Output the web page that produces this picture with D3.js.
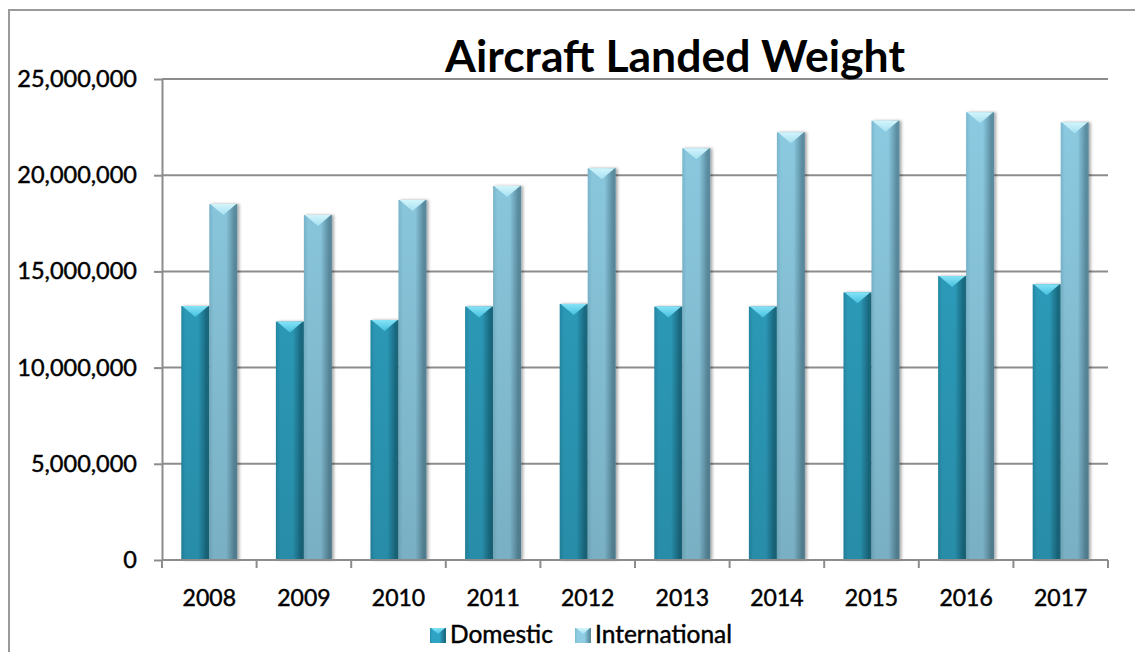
<!DOCTYPE html>
<html>
<head>
<meta charset="utf-8">
<script src="https://cdn.jsdelivr.net/npm/d3@7"></script>
<style>
  body { margin: 0; background: #fff; }
  text { font-family: Lato, "Open Sans", "DejaVu Sans", sans-serif; fill: #000; }
  .lbl { stroke: #000; stroke-width: 0.45px; }
</style>
</head>
<body>
<svg id="chart" width="1135" height="652"></svg>
<script>
// Aircraft landed weight by year
const years = ["2008", "2009", "2010", "2011", "2012", "2013", "2014", "2015", "2016", "2017"];
const seriesNames = ["Domestic", "International"];
const domestic = [13200000, 12390000, 12470000, 13170000, 13310000, 13170000, 13170000, 13910000, 14760000, 14330000];
const international = [18500000, 17930000, 18710000, 19440000, 20360000, 21400000, 22230000, 22830000, 23270000, 22750000];
const yTicks = [0, 5000000, 10000000, 15000000, 20000000, 25000000];

const W = 1135, H = 652;
const plot = { left: 162, right: 1108, top: 79, bottom: 560 };

const svg = d3.select("#chart");
svg.append("rect").attr("width", W).attr("height", H).attr("fill", "#fff");

// outer frame (left and top edges visible)
svg.append("path")
  .attr("d", `M9,${H} L9,10 L${W},10`)
  .attr("fill", "none").attr("stroke", "#9a9a9a").attr("stroke-width", 2);

const x0 = d3.scaleBand().domain(years).range([plot.left, plot.right]).padding(0);
const x1 = d3.scaleBand().domain(seriesNames).range([0, x0.bandwidth()])
  .paddingInner(0).paddingOuter(0.69);
const y = d3.scaleLinear().domain([0, 25000000]).range([plot.bottom, plot.top]);

const palette = {
  Domestic:      { left: "#2690ae", mid: "#2fa3c3", right: "#1b6f87", cap: "#86e3f7", capEdge: "#45c0de" },
  International: { left: "#7cbad0", mid: "#8dcce3", right: "#5d8fa3", cap: "#d2f5fc", capEdge: "#a6e0f0" }
};

const defs = svg.append("defs");
seriesNames.forEach((s, i) => {
  const c = palette[s];
  const g = defs.append("linearGradient").attr("id", "body" + i)
    .attr("x1", "0").attr("x2", "1").attr("y1", "0").attr("y2", "0");
  g.append("stop").attr("offset", "0").attr("stop-color", c.left);
  g.append("stop").attr("offset", "0.15").attr("stop-color", c.mid);
  g.append("stop").attr("offset", "0.6").attr("stop-color", c.mid);
  g.append("stop").attr("offset", "0.9").attr("stop-color", c.right);
  g.append("stop").attr("offset", "1").attr("stop-color", c.right);
  const cg = defs.append("linearGradient").attr("id", "cap" + i)
    .attr("x1", "0").attr("x2", "0").attr("y1", "0").attr("y2", "1");
  cg.append("stop").attr("offset", "0").attr("stop-color", c.cap);
  cg.append("stop").attr("offset", "1").attr("stop-color", c.capEdge);
});
// darkening toward the base of the plot
const shade = defs.append("linearGradient").attr("id", "shade")
  .attr("gradientUnits", "userSpaceOnUse")
  .attr("x1", 0).attr("x2", 0).attr("y1", plot.top).attr("y2", plot.bottom);
shade.append("stop").attr("offset", "0").attr("stop-color", "#000").attr("stop-opacity", 0);
shade.append("stop").attr("offset", "1").attr("stop-color", "#000").attr("stop-opacity", 0.14);

const shadow = defs.append("filter").attr("id", "shadow")
  .attr("x", "-20%").attr("y", "-5%").attr("width", "150%").attr("height", "110%");
shadow.append("feDropShadow").attr("dx", 2).attr("dy", 0).attr("stdDeviation", 1.6)
  .attr("flood-color", "#000").attr("flood-opacity", 0.35);

// gridlines
svg.append("g").selectAll("line")
  .data(yTicks.filter(d => d > 0))
  .join("line")
  .attr("x1", plot.left).attr("x2", plot.right)
  .attr("y1", d => y(d)).attr("y2", d => y(d))
  .attr("stroke", "#8c8c8c").attr("stroke-width", 2);

// y axis
const yAxis = svg.append("g")
  .attr("transform", `translate(${plot.left},0)`)
  .call(d3.axisLeft(y).tickValues(yTicks).tickSize(8).tickSizeOuter(0)
    .tickPadding(17).tickFormat(d3.format(",")));
yAxis.select(".domain").attr("stroke", "#8c8c8c").attr("stroke-width", 2);
yAxis.selectAll(".tick line").attr("stroke", "#8c8c8c").attr("stroke-width", 2);
yAxis.selectAll("text").attr("class", "lbl").style("font-size", "23.5px").attr("fill", "#000");

// bars
const rows = years.map((yr, i) => ({ year: yr, values: [domestic[i], international[i]] }));
const capH = 11;
const groups = svg.append("g").selectAll("g")
  .data(rows).join("g")
  .attr("transform", d => `translate(${x0(d.year)},0)`);

const bars = groups.selectAll("g.bar")
  .data(d => d.values.map((v, i) => ({ series: seriesNames[i], idx: i, value: v })))
  .join("g").attr("class", "bar");

bars.append("rect")
  .attr("x", d => x1(d.series)).attr("width", x1.bandwidth())
  .attr("y", d => y(d.value)).attr("height", d => y(0) - y(d.value))
  .attr("fill", d => `url(#body${d.idx})`)
  .attr("filter", "url(#shadow)");
bars.append("rect")
  .attr("x", d => x1(d.series)).attr("width", x1.bandwidth())
  .attr("y", d => y(d.value)).attr("height", d => y(0) - y(d.value))
  .attr("fill", "url(#shade)");
// bevelled top facet
bars.append("path")
  .attr("d", d => {
    const xl = x1(d.series), xr = xl + x1.bandwidth(), yt = y(d.value);
    const xm = (xl + xr) / 2;
    return `M${xl + 1},${yt} L${xr - 1},${yt} L${xm},${yt + capH} Z`;
  })
  .attr("fill", d => `url(#cap${d.idx})`);

// x axis: boundary ticks and year labels
const xAxis = svg.append("g").attr("transform", `translate(0,${plot.bottom})`);
xAxis.append("line")
  .attr("x1", plot.left).attr("x2", plot.right)
  .attr("stroke", "#8c8c8c").attr("stroke-width", 2);
xAxis.selectAll("line.tk")
  .data(years.map(d => x0(d)).concat([x0.range()[1]]))
  .join("line").attr("class", "tk")
  .attr("x1", d => d).attr("x2", d => d).attr("y1", 0).attr("y2", 8)
  .attr("stroke", "#8c8c8c").attr("stroke-width", 2);
xAxis.selectAll("text")
  .data(years).join("text")
  .attr("class", "lbl")
  .attr("x", d => x0(d) + x0.bandwidth() / 2)
  .attr("y", 46)
  .attr("text-anchor", "middle")
  .style("font-size", "23px")
  .text(d => d);

// title
svg.append("text")
  .attr("x", 675).attr("y", 72)
  .attr("text-anchor", "middle")
  .style("font-size", "44.5px").style("font-weight", "bold")
  .text("Aircraft Landed Weight");

// legend
const legendItems = [
  { name: "Domestic", idx: 0, x: 430 },
  { name: "International", idx: 1, x: 575 }
];
const lg = svg.append("g").selectAll("g").data(legendItems).join("g")
  .attr("transform", d => `translate(${d.x},628)`);
lg.append("rect").attr("width", 16).attr("height", 15)
  .attr("fill", d => `url(#body${d.idx})`);
lg.append("path").attr("d", "M1,0 L15,0 L8,6 Z")
  .attr("fill", d => `url(#cap${d.idx})`);
lg.append("text").attr("class", "lbl").attr("x", 20).attr("y", 15)
  .style("font-size", "24.5px")
  .text(d => d.name);
</script>
</body>
</html>
